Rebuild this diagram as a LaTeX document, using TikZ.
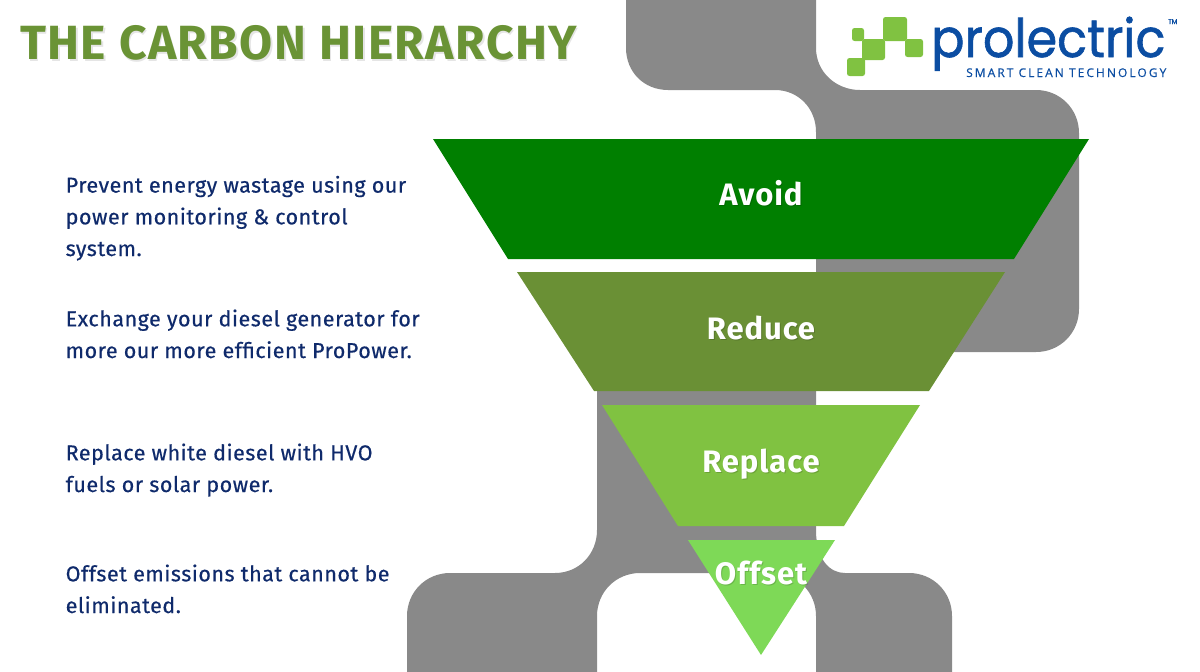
\documentclass[tikz,border=0pt]{standalone}
\usepackage{fontspec}
\setmainfont{Fira Sans}
\newfontfamily\bodyfont[LetterSpace=2.4,FakeBold=0.5]{Fira Sans}
\newfontfamily\labelfont[LetterSpace=3]{Fira Sans}
\newfontfamily\titlefont[LetterSpace=3]{Fira Sans}
\newfontfamily\logofont[FakeBold=1.2,FakeStretch=0.93]{Poppins}
\newfontfamily\tagfont[LetterSpace=17,FakeBold=0.4]{Open Sans}
\definecolor{greyshape}{HTML}{898989}
\definecolor{avoidc}{HTML}{007F00}
\definecolor{reducec}{HTML}{6A9035}
\definecolor{replacec}{HTML}{80C241}
\definecolor{offsetc}{HTML}{7ED957}
\definecolor{navytext}{HTML}{0F2A6B}
\definecolor{titlec}{HTML}{6A9335}
\definecolor{logoblue}{HTML}{0B4DA2}
\tikzset{
  band/.style={draw=none},
  bodytext/.style={anchor=base west,text=navytext,inner sep=0pt,align=left,font=\bodyfont\fontsize{21.5}{31.7}\selectfont},
  bandlabel/.style={anchor=base,text=white,inner sep=0pt,font=\labelfont\fontsize{31}{32}\selectfont\bfseries},
  shadowlabel/.style={anchor=base,text=black,opacity=.16,inner sep=0pt,font=\labelfont\fontsize{31}{32}\selectfont\bfseries},
  logosq/.style={fill=replacec,draw=none,rounded corners=2.5pt},
}
\begin{document}
\begin{tikzpicture}[x=1pt,y=-1pt]
\useasboundingbox (0,0) rectangle (1200,672);
% grey shape
\fill[greyshape] (626,0) -- (626,48) .. controls (626,72) and (644,90) .. (668,90)
  -- (775,90) .. controls (798,90) and (816,108) .. (816,132) -- (816,260)
  -- (816,352) -- (597,352) -- (597,530) .. controls (597,554) and (579,573) .. (555,573)
  -- (450,573) .. controls (426,573) and (407,592) .. (407,616) -- (407,672)
  -- (597,672) -- (597,616) .. controls (597,592) and (616,573) .. (640,573)
  -- (773,573) .. controls (797,573) and (816,592) .. (816,616) -- (816,672)
  -- (952,672) -- (952,616) .. controls (952,592) and (933,573) .. (909,573)
  -- (845,573) .. controls (830,573) and (816,560) .. (816,530) -- (816,352)
  -- (1036,352) .. controls (1060,352) and (1079,333) .. (1079,309)
  -- (1079,133) .. controls (1079,109) and (1060,90) .. (1036,90)
  -- (860,90) .. controls (836,90) and (816,72) .. (816,48) -- (816,0) -- cycle;
% funnel
\fill[band,avoidc] (433,139) -- (1089,139) -- (1014,259) -- (508,259) -- cycle;
\fill[band,reducec] (517,272) -- (1005,272) -- (929,391) -- (594,391) -- cycle;
\fill[band,replacec] (602,405) -- (920,405) -- (844,526) -- (678,526) -- cycle;
\fill[band,offsetc] (688,540) -- (835,540) -- (761,655) -- cycle;
% band labels
\node[shadowlabel] (avoidS) at (762,206.5) {Avoid};
\node[shadowlabel] (reduceS) at (762,340.5) {Reduce};
\node[shadowlabel] (replaceS) at (762,473.5) {Replace};
\node[shadowlabel] (offsetS) at (762,585.5) {Offset};
\node[bandlabel] (avoid) at (761,205) {Avoid};
\node[bandlabel] (reduce) at (761,339) {Reduce};
\node[bandlabel] (replace) at (761,472) {Replace};
\node[bandlabel] (offset) at (761,584) {Offset};
% title
\node[anchor=west,text=black,opacity=.1,inner sep=0pt,font=\titlefont\fontsize{48}{50}\selectfont\bfseries] (titleS) at (21.5,44.5) {THE CARBON HIERARCHY};
\node[anchor=west,text=titlec,inner sep=0pt,font=\titlefont\fontsize{48}{50}\selectfont\bfseries] (title) at (20,43) {THE CARBON HIERARCHY};
% body
\node[bodytext] (t1) at (65.5,256) {Prevent energy wastage using our\\power monitoring \& control\\system.};
\node[bodytext] (t2) at (65.5,358) {Exchange your diesel generator for\\more our more efficient ProPower.};
\node[bodytext] (t3) at (65.5,492) {Replace white diesel with HVO\\fuels or solar power.};
\node[bodytext] (t4) at (65.5,613) {Offset emissions that cannot be\\eliminated.};
% logo
\fill[logosq] (852,28) rectangle (864,41);
\fill[logosq] (862,39) rectangle (885,60);
\fill[logosq] (883,17) rectangle (907,41);
\fill[logosq] (905,39) rectangle (923,57);
\fill[logosq] (847,58) rectangle (865,76);
\node[anchor=base west,text=logoblue,inner sep=0pt,font=\logofont\fontsize{53}{53}\selectfont] (logo) at (931,57) {prolectric};
\node[anchor=base west,text=logoblue,inner sep=0pt,font=\logofont\fontsize{7}{7}\selectfont] (tm) at (1168,24) {TM};
\node[anchor=base west,text=logoblue,inner sep=0pt,font=\tagfont\fontsize{12}{12}\selectfont] (tag) at (966,77) {SMART CLEAN TECHNOLOGY};
\end{tikzpicture}
\end{document}
